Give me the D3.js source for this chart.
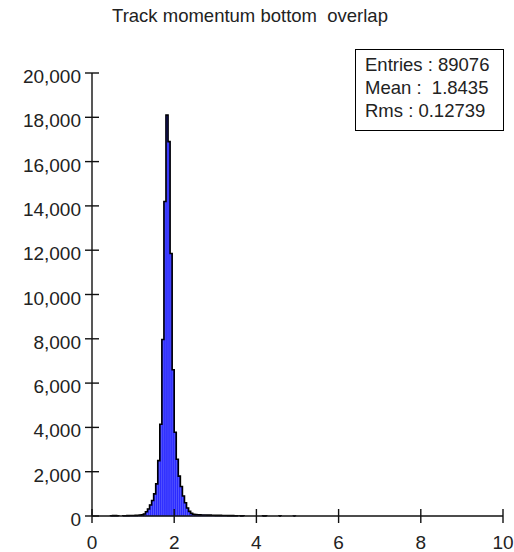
<!DOCTYPE html>
<html>
<head>
<meta charset="utf-8">
<script src="https://cdn.jsdelivr.net/npm/d3@7"></script>
<style>
  html, body { margin: 0; padding: 0; background: #fff; }
  svg text { font-family: "Liberation Sans", Arial, sans-serif; fill: #222; }
</style>
</head>
<body>
<svg id="chart" width="514" height="552"></svg>
<script>
// ---- data ----
const title = "Track momentum bottom  overlap";
const binWidth = 0.05;
const binLow = [0.45, 0.50, 0.55, 0.60,
  0.75, 0.80, 0.85, 0.90, 0.95, 1.00, 1.05, 1.10, 1.15, 1.20, 1.25, 1.30, 1.35, 1.40, 1.45,
  1.50, 1.55, 1.60, 1.65, 1.70, 1.75, 1.80, 1.85, 1.90, 1.95, 2.00, 2.05, 2.10, 2.15, 2.20,
  2.25, 2.30, 2.35, 2.40, 2.45, 2.50, 2.55, 2.60, 2.65, 2.70, 2.75, 2.80, 2.85, 2.90, 2.95,
  3.00, 3.05, 3.10, 3.15, 3.20, 3.25, 3.30, 3.35, 3.40, 3.45, 3.50, 3.60, 3.65, 4.15, 4.20,
  4.55, 4.90];
const counts = [12, 18, 15, 12,
  10, 14, 16, 20, 22, 25, 28, 32, 38, 50, 90, 190, 315, 500, 700,
  1000, 1450, 2500, 4140, 7970, 14200, 18100, 16900, 11850, 6600, 3780, 2560, 1800, 1330, 900,
  600, 360, 210, 120, 80, 60, 55, 50, 48, 45, 42, 40, 38, 35, 33,
  30, 28, 26, 24, 22, 20, 18, 16, 15, 14, 10, 6, 8, 5, 5,
  4, 3];
const xTicks = [0, 2, 4, 6, 8, 10];
const yTicks = [0, 2000, 4000, 6000, 8000, 10000, 12000, 14000, 16000, 18000, 20000];
const statLabels = ["Entries : 89076", "Mean :  1.8435", "Rms : 0.12739"];

// ---- layout ----
const svg = d3.select("#chart");
const x = d3.scaleLinear().domain([0, 10]).range([92, 503]);
const y = d3.scaleLinear().domain([0, 20000]).range([516, 73]);
const bins = binLow.map((lo, i) => ({ lo, hi: lo + binWidth, v: counts[i] }));

// bars
svg.append("g").selectAll("rect").data(bins).join("rect")
  .attr("x", d => x(d.lo))
  .attr("y", d => y(d.v))
  .attr("width", d => x(d.hi) - x(d.lo))
  .attr("height", d => y(0) - y(d.v))
  .attr("fill", "#2a2aff")
  .attr("stroke", "#5c5cff")
  .attr("stroke-width", 0.5);

// outline: step envelope over contiguous runs of bins
const outline = d3.path();
let prevHi = null;
bins.forEach((d, i) => {
  const contiguous = prevHi !== null && Math.abs(prevHi - d.lo) < 1e-6;
  if (!contiguous) {
    if (prevHi !== null) outline.lineTo(x(prevHi), y(0));
    outline.moveTo(x(d.lo), y(0));
  }
  outline.lineTo(x(d.lo), y(d.v));
  outline.lineTo(x(d.hi), y(d.v));
  prevHi = d.hi;
});
outline.lineTo(x(prevHi), y(0));
svg.append("path").attr("d", outline.toString())
  .attr("fill", "none").attr("stroke", "#000").attr("stroke-width", 1.6)
  .attr("stroke-linejoin", "miter");

// axes
const ax = svg.append("g").attr("stroke", "#111").attr("stroke-width", 1.4);
ax.append("line").attr("x1", x(0)).attr("x2", x(10)).attr("y1", y(0)).attr("y2", y(0));
ax.append("line").attr("x1", x(0)).attr("x2", x(0)).attr("y1", y(0)).attr("y2", y(20000));
ax.selectAll(".xt").data(xTicks).join("line")
  .attr("x1", d => x(d)).attr("x2", d => x(d))
  .attr("y1", y(0) - 7).attr("y2", y(0) + 7);
ax.selectAll(".yt").data(yTicks).join("line")
  .attr("x1", x(0) - 7).attr("x2", x(0) + 7)
  .attr("y1", d => y(d)).attr("y2", d => y(d));

const fmt = d3.format(",");
svg.append("g").selectAll("text").data(xTicks).join("text")
  .attr("x", d => x(d)).attr("y", 549)
  .attr("text-anchor", "middle").attr("font-size", 19)
  .text(d => d);
svg.append("g").selectAll("text").data(yTicks).join("text")
  .attr("x", 81).attr("y", d => y(d) + 10)
  .attr("text-anchor", "end").attr("font-size", 19)
  .text(d => fmt(d));

// title
svg.append("text").attr("x", 250).attr("y", 22)
  .attr("text-anchor", "middle").attr("font-size", 18.5)
  .style("white-space", "pre")
  .text(title);

// stats box
svg.append("rect").attr("x", 355.5).attr("y", 49.5).attr("width", 148).attr("height", 81)
  .attr("fill", "#fff").attr("stroke", "#000").attr("stroke-width", 1);
svg.append("g").selectAll("text").data(statLabels).join("text")
  .attr("x", 365).attr("y", (d, i) => 71 + i * 23)
  .attr("font-size", 18.5)
  .style("white-space", "pre")
  .text(d => d);
</script>
</body>
</html>
